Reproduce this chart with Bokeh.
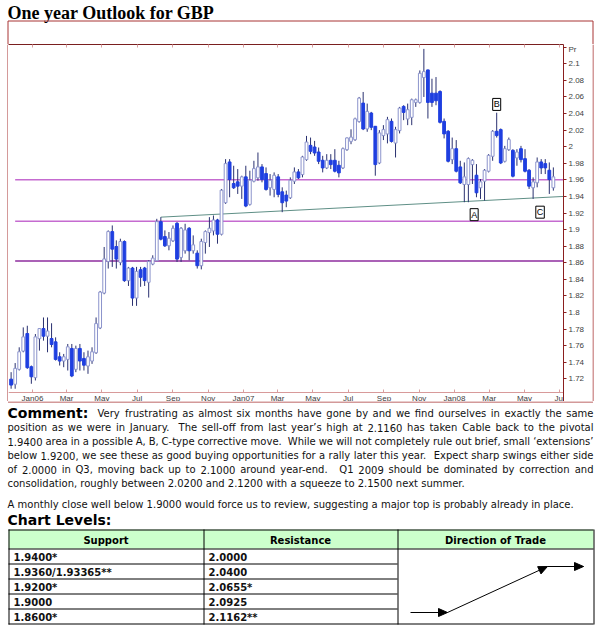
import re
import datetime as dt
from bokeh.plotting import figure
from bokeh.layouts import column, row
from bokeh.core.properties import value
from bokeh.models import (ColumnDataSource, DatetimeAxis, LinearAxis, FixedTicker,
                          CustomJSTickFormatter, Label, Range1d)
from bokeh.embed import file_html
from bokeh.resources import INLINE

# ---------------- data ----------------
first_week = "2005-11-25"
opens = [
    1.719, 1.714, 1.732, 1.754, 1.774, 1.734, 1.722, 1.769, 1.780, 1.772,
    1.768, 1.764, 1.746, 1.742, 1.744, 1.756, 1.732, 1.756, 1.744, 1.736,
    1.742, 1.752, 1.782, 1.824, 1.862, 1.897, 1.879, 1.861, 1.885, 1.839,
    1.853, 1.818, 1.851, 1.853, 1.837, 1.859, 1.863, 1.909, 1.891, 1.881,
    1.887, 1.907, 1.867, 1.875, 1.901, 1.875, 1.871, 1.857, 1.885, 1.897,
    1.899, 1.911, 1.895, 1.933, 1.981, 1.955, 1.957, 1.953, 1.963, 1.931,
    1.959, 1.963, 1.975, 1.967, 1.951, 1.949, 1.963, 1.945, 1.941, 1.939,
    1.959, 1.969, 1.967, 1.985, 2.001, 1.999, 1.993, 1.983, 1.975, 1.983,
    1.983, 1.977, 1.975, 1.997, 2.007, 2.009, 2.031, 2.052, 2.022, 2.040,
    2.024, 1.981, 2.014, 2.016, 2.030, 2.005, 2.020, 2.048, 2.034, 2.036,
    2.054, 2.054, 2.084, 2.092, 2.064, 2.064, 2.066, 2.030, 2.018, 1.985,
    1.997, 1.975, 1.955, 1.955, 1.979, 1.965, 1.951, 1.959, 1.971, 1.989,
    2.018, 2.020, 1.983, 1.997, 1.995, 1.987, 1.997, 1.985, 1.971, 1.951,
    1.957, 1.981, 1.979, 1.971, 1.951]
highs = [
    1.728, 1.739, 1.758, 1.782, 1.784, 1.736, 1.774, 1.781, 1.794, 1.794,
    1.787, 1.770, 1.752, 1.750, 1.762, 1.762, 1.760, 1.762, 1.752, 1.754,
    1.758, 1.794, 1.826, 1.879, 1.899, 1.905, 1.887, 1.889, 1.887, 1.855,
    1.855, 1.855, 1.855, 1.855, 1.863, 1.869, 1.913, 1.915, 1.899, 1.897,
    1.905, 1.909, 1.903, 1.907, 1.903, 1.893, 1.875, 1.889, 1.899, 1.915,
    1.917, 1.913, 1.949, 1.985, 1.985, 1.977, 1.973, 1.965, 1.977, 1.971,
    1.983, 1.993, 1.979, 1.975, 1.967, 1.969, 1.967, 1.951, 1.947, 1.963,
    1.975, 1.973, 1.989, 2.013, 2.011, 2.007, 1.999, 1.989, 1.991, 1.991,
    1.997, 1.983, 1.999, 2.011, 2.021, 2.035, 2.060, 2.066, 2.052, 2.042,
    2.025, 2.020, 2.026, 2.036, 2.034, 2.024, 2.048, 2.050, 2.052, 2.058,
    2.058, 2.092, 2.118, 2.093, 2.082, 2.084, 2.068, 2.034, 2.020, 2.011,
    2.008, 1.983, 1.981, 1.987, 1.985, 1.979, 1.961, 1.973, 1.991, 2.020,
    2.041, 2.022, 2.001, 2.011, 1.997, 1.997, 2.001, 1.997, 1.973, 1.963,
    1.987, 1.985, 1.985, 1.981, 1.975]
lows = [
    1.708, 1.708, 1.730, 1.752, 1.732, 1.714, 1.718, 1.754, 1.766, 1.752,
    1.758, 1.742, 1.736, 1.734, 1.730, 1.722, 1.728, 1.730, 1.730, 1.726,
    1.738, 1.750, 1.780, 1.822, 1.853, 1.855, 1.853, 1.857, 1.837, 1.832,
    1.808, 1.808, 1.831, 1.832, 1.818, 1.857, 1.862, 1.887, 1.879, 1.875,
    1.885, 1.861, 1.861, 1.871, 1.863, 1.871, 1.853, 1.852, 1.871, 1.879,
    1.893, 1.883, 1.893, 1.931, 1.939, 1.949, 1.943, 1.937, 1.927, 1.929,
    1.957, 1.959, 1.957, 1.947, 1.941, 1.939, 1.939, 1.921, 1.927, 1.937,
    1.955, 1.961, 1.963, 1.983, 1.991, 1.989, 1.979, 1.969, 1.973, 1.973,
    1.969, 1.963, 1.973, 1.995, 2.003, 2.007, 2.029, 2.020, 2.018, 2.020,
    1.965, 1.979, 2.008, 2.004, 2.005, 1.987, 2.016, 2.032, 2.026, 2.026,
    2.048, 2.052, 2.060, 2.034, 2.048, 2.050, 2.028, 2.010, 1.981, 1.979,
    1.969, 1.955, 1.933, 1.933, 1.955, 1.939, 1.937, 1.935, 1.969, 1.983,
    2.011, 1.979, 1.981, 1.995, 1.963, 1.977, 1.981, 1.969, 1.949, 1.937,
    1.951, 1.967, 1.967, 1.943, 1.947]
closes = [
    1.713, 1.732, 1.752, 1.770, 1.734, 1.723, 1.770, 1.780, 1.772, 1.777,
    1.762, 1.744, 1.742, 1.746, 1.758, 1.724, 1.756, 1.742, 1.737, 1.746,
    1.752, 1.786, 1.824, 1.864, 1.897, 1.877, 1.865, 1.885, 1.839, 1.853,
    1.818, 1.849, 1.843, 1.839, 1.861, 1.865, 1.909, 1.889, 1.881, 1.889,
    1.901, 1.865, 1.901, 1.899, 1.875, 1.881, 1.857, 1.885, 1.897, 1.901,
    1.911, 1.895, 1.947, 1.979, 1.961, 1.951, 1.953, 1.963, 1.929, 1.959,
    1.973, 1.975, 1.961, 1.949, 1.959, 1.965, 1.943, 1.933, 1.935, 1.959,
    1.969, 1.963, 1.987, 2.005, 1.995, 1.993, 1.983, 1.975, 1.983, 1.979,
    1.971, 1.969, 1.997, 2.010, 2.011, 2.033, 2.058, 2.022, 2.042, 2.024,
    1.979, 2.016, 2.020, 2.032, 2.007, 2.020, 2.046, 2.042, 2.044, 2.056,
    2.056, 2.088, 2.090, 2.054, 2.054, 2.056, 2.030, 2.016, 1.983, 1.997,
    1.971, 1.957, 1.963, 1.985, 1.983, 1.945, 1.957, 1.971, 1.989, 2.018,
    2.014, 1.981, 1.997, 2.008, 1.965, 1.993, 1.985, 1.971, 1.953, 1.957,
    1.981, 1.975, 1.975, 1.961, 1.963]

level_lines = [1.96, 1.91, 1.862]
level_colors = ["#c56bd0", "#c56bd0", "#8e2d9e"]
level_start = "2005-12-02"
trend_dates = ["2006-08-11", "2008-07-08"]
trend_prices = [1.915, 1.940]
price_ticks = [1.72, 1.74, 1.76, 1.78, 1.80, 1.82, 1.84, 1.86, 1.88, 1.90,
               1.92, 1.94, 1.96, 1.98, 2.00, 2.02, 2.04, 2.06, 2.08, 2.10]
month_ticks = ["2006-01-01", "2006-03-01", "2006-05-01", "2006-07-01", "2006-09-01",
               "2006-11-01", "2007-01-01", "2007-03-01", "2007-05-01", "2007-07-01",
               "2007-09-01", "2007-11-01", "2008-01-01", "2008-03-01", "2008-05-01",
               "2008-07-01"]
wave_labels = ["A", "B", "C"]
wave_dates = ["2008-02-04", "2008-03-14", "2008-05-28"]
wave_prices = [1.918, 2.051, 1.921]

title_text = "One year Outlook for GBP"
comment_head = "Comment:"
comment_lines = [
    "Very frustrating as almost six months have gone by and we find ourselves in exactly the same",
    "position as we were in January.  The sell-off from last year\u2019s high at 2.1160 has taken Cable back to the pivotal",
    "1.9400 area in a possible A, B, C-type corrective move.  While we will not completely rule out brief, small \u2018extensions\u2019",
    "below 1.9200, we see these as good buying opportunities for a rally later this year.  Expect sharp swings either side",
    "of 2.0000 in Q3, moving back up to 2.1000 around year-end.   Q1 2009 should be dominated by correction and",
    "consolidation, roughly between 2.0200 and 2.1200 with a squeeze to 2.1500 next summer.",
]
review_line = "A monthly close well below 1.9000 would force us to review, suggesting a major top is probably already in place."
levels_head = "Chart Levels:"
table_headers = ["Support", "Resistance", "Direction of Trade"]
support = ["1.9400*", "1.9360/1.93365**", "1.9200*", "1.9000", "1.8600*"]
resistance = ["2.0000", "2.0400", "2.0655*", "2.0925", "2.1162**"]

# ---------------- geometry (page pixels) ----------------
W, H = 601, 625
TOP_H = 44
MID_H = 357
BOT_H = H - TOP_H - MID_H
LEFT_W, RIGHT_W = 8, 9
CH_W = W - LEFT_W - RIGHT_W
FL, FR, FT, FB = 8, 563, 44, 401     # chart frame (page px); x-axis line sits at 392
AXIS_Y = 392
RED = "#a83434"
EPOCH = dt.datetime(1970, 1, 1)
DAY = 86400000.0


def ms(s):
    return (dt.datetime.fromisoformat(s) - EPOCH).total_seconds() * 1000.0


J06 = ms("2006-01-01")
PX_PER_DAY = (454 - 32) / 730.0
X0 = J06 + (FL - 32) / PX_PER_DAY * DAY
X1 = J06 + (FR - 32) / PX_PER_DAY * DAY
PX_PER_UNIT = (378.3 - 63.3) / 0.38
Y1 = 2.1 + (63.3 - FT) / PX_PER_UNIT
Y0 = 2.1 - (FB - 63.3) / PX_PER_UNIT
AXIS_PRICE = 2.1 - (AXIS_Y - 63.3) / PX_PER_UNIT
PR_TICK = 2.1 + (63.3 - 46.5) / PX_PER_UNIT


def pix_fig(w, h, x_off, y_off):
    f = figure(width=w, height=h, output_backend="svg", toolbar_location=None,
               x_range=Range1d(x_off, x_off + w), y_range=Range1d(y_off + h, y_off),
               x_axis_location=None, y_axis_location=None, min_border=0)
    f.min_border_left = f.min_border_right = f.min_border_top = f.min_border_bottom = 0
    f.outline_line_color = None
    f.background_fill_color = "white"
    f.border_fill_color = "white"
    f.xgrid.visible = False
    f.ygrid.visible = False
    return f


# DejaVu Sans advance widths (units of 1/2048 em) for justification
_W = {" ": 651, "!": 821, "'": 563, "(": 799, ")": 799, "*": 1024, ",": 651, "-": 739,
      ".": 651, "/": 690, ":": 690, ";": 690, "\u2019": 651, "\u2018": 651}
for ch in "0123456789":
    _W[ch] = 1303
_W.update(dict(zip("ABCDEFGHIJKLMNOPQRSTUVWXYZ",
                   [1401, 1405, 1430, 1577, 1294, 1178, 1587, 1540, 604, 604, 1343, 1141, 1767,
                    1532, 1612, 1235, 1612, 1423, 1300, 1251, 1499, 1401, 2025, 1403, 1251, 1403])))
_W.update(dict(zip("abcdefghijklmnopqrstuvwxyz",
                   [1255, 1300, 1126, 1300, 1260, 721, 1300, 1298, 569, 569, 1186, 569, 1995,
                    1298, 1253, 1300, 1300, 842, 1067, 803, 1298, 1212, 1675, 1212, 1212, 1075])))


def tw(s, size):
    return sum(_W.get(c, 1250) for c in s) * size / 2048.0


def justify(line, x_left, x_right, size):
    parts = re.split(r"( +)", line)
    words = parts[0::2]
    spaces = parts[1::2]
    natural = sum(tw(w, size) for w in words) + sum(tw(s, size) for s in spaces)
    extra = (x_right - x_left - natural) / max(1, len(spaces))
    xs, x = [], x_left
    for i, wd in enumerate(words):
        xs.append(x)
        x += tw(wd, size)
        if i < len(spaces):
            x += tw(spaces[i], size) + extra
    return words, xs


# ---------------- title band ----------------
ft = pix_fig(W, TOP_H, 0, 0)
ft.text(x=[7], y=[12.5], text=[title_text], text_font=value("Liberation Serif"),
        text_font_style="bold", text_font_size="18px", text_baseline="middle", text_color="black")
ft.segment(x0=[7.5, 7.5, 592.5], y0=[20.5, 20.5, 20.5], x1=[592.5, 7.5, 592.5], y1=[20.5, 44, 44],
           line_color=RED, line_width=1)

# ---------------- side strips ----------------
fl = pix_fig(LEFT_W, MID_H, 0, TOP_H)
fl.segment(x0=[7.5], y0=[TOP_H], x1=[7.5], y1=[TOP_H + MID_H], line_color=RED, line_width=1)
fr = pix_fig(RIGHT_W, MID_H, 592, TOP_H)
fr.segment(x0=[592.5], y0=[TOP_H], x1=[592.5], y1=[TOP_H + MID_H], line_color=RED, line_width=1)

# ---------------- chart ----------------
n = min(len(opens), len(highs), len(lows), len(closes))
start = ms(first_week)
dates = [start + 7 * DAY * i for i in range(n)]
up = [closes[i] >= opens[i] for i in range(n)]
src = ColumnDataSource(dict(
    x=dates, o=opens[:n], h=highs[:n], l=lows[:n], c=closes[:n],
    top=[max(opens[i], closes[i]) + 0.0006 for i in range(n)],
    bot=[min(opens[i], closes[i]) - 0.0006 for i in range(n)],
    fill=["white" if u else "#1f3fe0" for u in up],
    line=["#8c94cc" if u else "#1f3fe0" for u in up],
))

p = figure(width=CH_W, height=MID_H, output_backend="svg", toolbar_location=None,
           x_range=Range1d(X0, X1), y_range=Range1d(Y0, Y1),
           x_axis_location=None, y_axis_location=None)
p.min_border_left = 0
p.min_border_right = 592 - FR
p.min_border_top = 0
p.min_border_bottom = 0
p.outline_line_color = None
p.background_fill_color = "white"
p.border_fill_color = "white"
p.xgrid.visible = False
p.ygrid.visible = False

fmt_month = CustomJSTickFormatter(code="""
const d = new Date(tick);
const m = ['Jan','Feb','Mar','Apr','May','Jun','Jul','Aug','Sep','Oct','Nov','Dec'][d.getUTCMonth()];
return m == 'Jan' ? m + String(d.getUTCFullYear()).slice(2) : m;
""")
xb = DatetimeAxis(ticker=FixedTicker(ticks=[ms(t) for t in month_ticks]), formatter=fmt_month,
                  fixed_location=AXIS_PRICE)
xb.axis_line_color = "#d89a9a"
xb.major_tick_line_color = "#d8a0a0"
xb.major_tick_in = 3
xb.major_tick_out = 0
xb.minor_tick_line_color = None
xb.major_label_standoff = 1
xb.major_label_text_font_size = "8px"
xb.major_label_text_font = "Liberation Sans"
xb.major_label_text_color = "#404040"
p.add_layout(xb, "below")

xt = DatetimeAxis(ticker=FixedTicker(ticks=[ms(t) for t in month_ticks]),
                  formatter=CustomJSTickFormatter(code="return '';"))
xt.axis_line_color = "#7a1f1f"
xt.major_tick_line_color = "#d8a0a0"
xt.major_tick_in = 3
xt.major_tick_out = 0
xt.minor_tick_line_color = None
xt.major_label_standoff = 0
xt.major_label_text_font_size = "0px"
p.add_layout(xt, "above")

yr = LinearAxis(ticker=FixedTicker(ticks=price_ticks + [PR_TICK]),
                formatter=CustomJSTickFormatter(
                    code="return tick > 2.11 ? 'Pr' : String(parseFloat(tick.toFixed(2)));"))
yr.axis_line_color = "#8a1f1f"
yr.major_tick_line_color = "#8a1f1f"
yr.major_tick_in = 0
yr.major_tick_out = 3
yr.minor_tick_line_color = None
yr.major_label_standoff = 2
yr.major_label_text_font_size = "8px"
yr.major_label_text_font = "Liberation Sans"
yr.major_label_text_color = "#404040"
p.add_layout(yr, "right")

for lv, col in zip(level_lines, level_colors):
    p.line([ms(level_start), X1], [lv, lv], line_color=col, line_width=1.5)
p.line([ms(d) for d in trend_dates], trend_prices, line_color="#5f8f86", line_width=1)

p.segment(x0="x", y0="h", x1="x", y1="l", source=src, line_color="#2a3170", line_width=1)
p.vbar(x="x", width=4.8 * DAY, top="top", bottom="bot", source=src,
       fill_color="fill", line_color="line", line_width=1)

for t, d, pr in zip(wave_labels, wave_dates, wave_prices):
    p.add_layout(Label(x=ms(d), y=pr, text=t, text_font="Liberation Sans", text_font_size="9px",
                       text_align="center", text_baseline="middle", text_color="black",
                       border_line_color="black", border_line_width=1,
                       background_fill_color="white", padding=1))

# ---------------- text + table band ----------------
fb = pix_fig(W, BOT_H, 0, TOP_H + MID_H)
fb.segment(x0=[7.5], y0=[401.5], x1=[592.5], y1=[401.5], line_color=RED, line_width=1)
TXT_FONT = "DejaVu Sans"
TS = 10.0
fb.text(x=[7, 7], y=[412, 519], text=[comment_head, levels_head], text_font=value(TXT_FONT),
        text_font_style="bold", text_font_size="14px", text_baseline="middle", text_color="black")

line_y = [413, 427, 441, 455, 469, 483]
line_x = [97, 7, 7, 7, 7, 7]
wl_x, wl_y, wl_t = [], [], []
wr_x, wr_y, wr_t = [], [], []
for i, (txt, yy, xl) in enumerate(zip(comment_lines, line_y, line_x)):
    if i < len(comment_lines) - 1:
        words, xs = justify(txt, xl, 593, TS)
        wl_x += xs[:-1]; wl_y += [yy] * (len(words) - 1); wl_t += words[:-1]
        wr_x.append(593); wr_y.append(yy); wr_t.append(words[-1])
    else:
        wl_x.append(xl); wl_y.append(yy); wl_t.append(txt)
wl_x.append(7); wl_y.append(504); wl_t.append(review_line)
fb.text(x=wl_x, y=wl_y, text=wl_t, text_font=value(TXT_FONT), text_font_size="%gpx" % TS,
        text_baseline="middle", text_color="#111111")
fb.text(x=wr_x, y=wr_y, text=wr_t, text_font=value(TXT_FONT), text_font_size="%gpx" % TS,
        text_baseline="middle", text_align="right", text_color="#111111")

cols = [8, 203, 397, 593]
rows = [529, 548, 563, 578, 593, 608, 623]
fb.quad(left=[cols[0]], right=[cols[3]], top=[rows[0]], bottom=[rows[1]],
        fill_color="#ccffcc", line_color=None)
hx0, hy0, hx1, hy1 = [], [], [], []
for r in rows:
    right_edge = cols[3] if r in (rows[0], rows[1], rows[-1]) else cols[2]
    hx0.append(cols[0]); hx1.append(right_edge); hy0.append(r + 0.5); hy1.append(r + 0.5)
for c in cols:
    hx0.append(c + 0.5); hx1.append(c + 0.5); hy0.append(rows[0]); hy1.append(rows[-1] + 1)
fb.segment(x0=hx0, y0=hy0, x1=hx1, y1=hy1, line_color="black", line_width=1)

fb.text(x=[(cols[j] + cols[j + 1]) / 2 for j in range(3)], y=[539.5] * 3, text=table_headers,
        text_font=value(TXT_FONT), text_font_style="bold", text_font_size="10px",
        text_align="center", text_baseline="middle", text_color="black")
cell_x, cell_y, cell_t = [], [], []
for i in range(5):
    yy = (rows[i + 1] + rows[i + 2]) / 2 + 1
    cell_x += [cols[0] + 5, cols[1] + 5]
    cell_y += [yy, yy]
    cell_t += [support[i], resistance[i]]
fb.text(x=cell_x, y=cell_y, text=cell_t, text_font=value(TXT_FONT), text_font_style="bold",
        text_font_size="10px", text_baseline="middle", text_color="#111111")

arrow_pts = [((410, 612), (447, 612)), ((447, 612), (547, 566)), ((547, 566), (583, 566))]
ax0, ay0, ax1, ay1, hxs, hys = [], [], [], [], [], []
for (a, b) in arrow_pts:
    ax0.append(a[0]); ay0.append(a[1]); ax1.append(b[0]); ay1.append(b[1])
    vx, vy = b[0] - a[0], b[1] - a[1]
    ln = (vx * vx + vy * vy) ** 0.5
    ux, uy = vx / ln, vy / ln
    bx, by = b[0] - 9 * ux, b[1] - 9 * uy
    hxs.append([b[0], bx - 4 * uy, bx + 4 * uy])
    hys.append([b[1], by + 4 * ux, by - 4 * ux])
fb.segment(x0=ax0, y0=ay0, x1=ax1, y1=ay1, line_color="black", line_width=1)
fb.patches(xs=hxs, ys=hys, fill_color="black", line_color="black")

layout = column(ft, row(fl, p, fr), fb)
open("out.html", "w").write(file_html(layout, INLINE))
